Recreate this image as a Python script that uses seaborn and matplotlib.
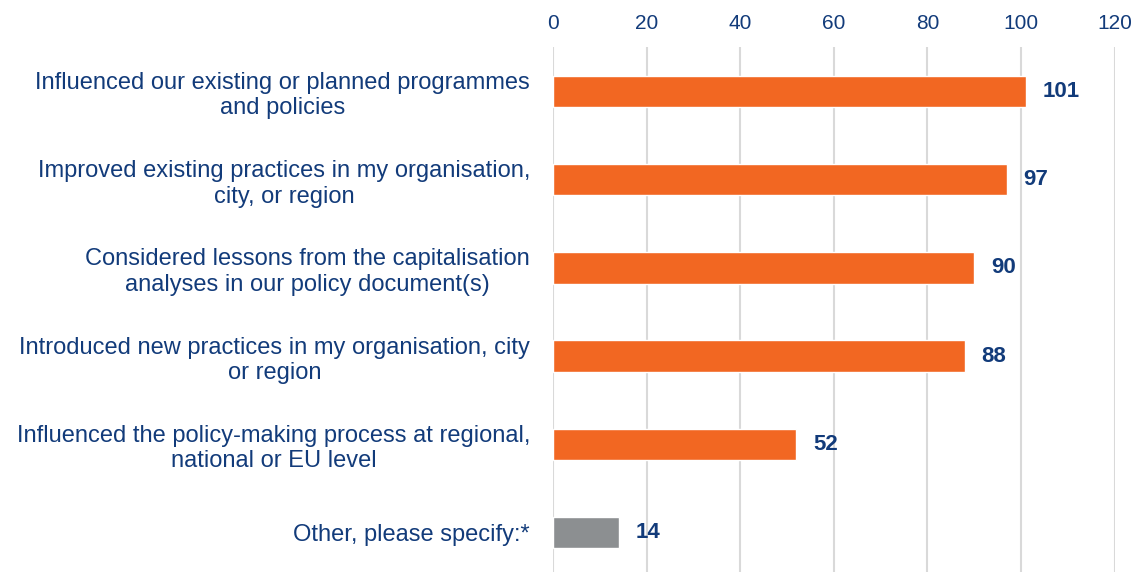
import matplotlib
matplotlib.use("Agg")
import matplotlib.pyplot as plt
import seaborn as sns
import pandas as pd

categories = [
    "Influenced our existing or planned programmes\nand policies",
    "Improved existing practices in my organisation,\ncity, or region",
    "Considered lessons from the capitalisation\nanalyses in our policy document(s)",
    "Introduced new practices in my organisation, city\nor region",
    "Influenced the policy-making process at regional,\nnational or EU level",
    "Other, please specify:*",
]
values = [101, 97, 90, 88, 52, 14]
bar_colors = ["#F26722", "#F26722", "#F26722", "#F26722", "#F26722", "#8C8F91"]
x_ticks = [0, 20, 40, 60, 80, 100, 120]

text_color = "#123B7A"

sns.set_theme(style="white")
plt.rcParams["font.family"] = ["Liberation Sans", "DejaVu Sans"]

df = pd.DataFrame({"category": categories, "value": values})

W, H = 1143, 572
fig = plt.figure(figsize=(W / 100, H / 100), dpi=100)
ax_left, ax_right = 553, 1114.6
ax_top, ax_bottom = 47.4, 576.6
ax = fig.add_axes([ax_left / W, (H - ax_bottom) / H,
                   (ax_right - ax_left) / W, (ax_bottom - ax_top) / H])

sns.barplot(data=df, x="value", y="category", hue="category",
            palette=bar_colors, legend=False, width=0.357, ax=ax,
            saturation=1, zorder=3)

ax.set_xlim(0, 120)
ax.set_ylim(5.5, -0.5)
ax.set_xticks(x_ticks)
ax.xaxis.tick_top()
ax.tick_params(axis="x", length=0, pad=10.5, labelsize=15, labelcolor=text_color)
ax.tick_params(axis="y", length=0, pad=16.5, labelsize=17, labelcolor=text_color)
for lbl in ax.get_yticklabels():
    lbl.set_multialignment("center")
    lbl.set_linespacing(1.2)

ax.grid(axis="x", color="#D9D9D9", linewidth=1.5, zorder=0)
ax.grid(axis="y", visible=False)
for s in ax.spines.values():
    s.set_visible(False)
ax.set_xlabel("")
ax.set_ylabel("")

for i, v in enumerate(values):
    ax.annotate(str(v), xy=(v, i), xytext=(12, 0), textcoords="offset points",
                ha="left", va="center", fontsize=16, fontweight="bold",
                color=text_color)

fig.savefig("out.png", dpi=100)
